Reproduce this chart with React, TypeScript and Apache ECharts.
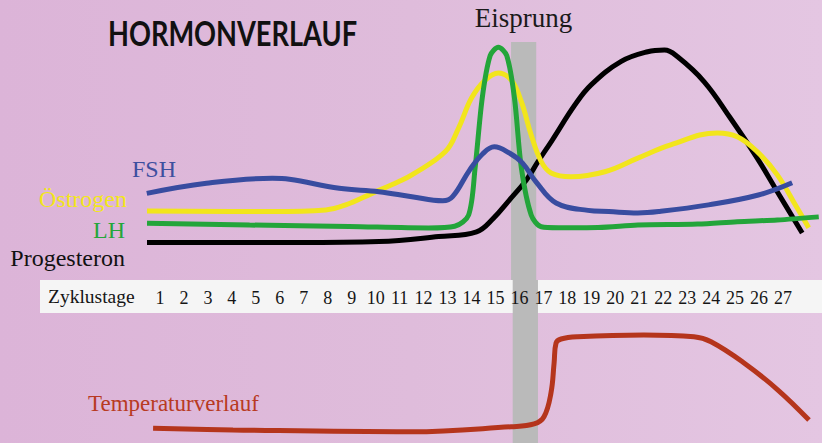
import React, { useEffect, useRef } from 'react';
import * as echarts from 'echarts';

// Tick labels for the cycle days
const dayLabels = ['1', '2', '3', '4', '5', '6', '7', '8', '9', '10', '11', '12', '13', '14', '15', '16', '17', '18', '19', '20', '21', '22', '23', '24', '25', '26', '27'];

// Ovulation band (Eisprung) in days
const ovulationDays = [15.65, 16.7];

// Hormone curves: [day, relative level 0-100]
const progesteronData: [number, number][] = [
  [0.46, 15.6], [6.81, 15.6], [10.14, 16], [12.63, 18.1], [14.21, 20.1], [14.92, 25.8],
  [15.58, 33.3], [16.29, 41.7], [16.78, 49.4], [17.37, 58.3], [18.31, 72.9], [18.99, 81.3],
  [20.23, 91], [21.35, 95.1], [22.05, 95.8], [22.6, 93], [23.71, 82.6], [24.8, 67.5],
  [25.92, 50.8], [26.76, 36.8], [27.8, 19.6],
];

const oestrogenData: [number, number][] = [
  [0.46, 28.8], [5.69, 28.5], [7.92, 29.2], [8.75, 31.3], [9.85, 36.1], [10.97, 41],
  [11.51, 43.8], [12.91, 53.5], [13.46, 63.3], [14.0, 75.8], [14.57, 83.3], [15.12, 86.3],
  [15.66, 83.3], [16.08, 74.3], [16.49, 60.4], [16.91, 49.3], [17.32, 44.6], [18.15, 43],
  [19.56, 45.1], [20.94, 50.8], [22.31, 56.3], [24.26, 61.3], [25.09, 59.7], [25.92, 53.5],
  [26.76, 43.8], [27.59, 30], [28.07, 21.8],
];

const lhData: [number, number][] = [
  [0.46, 23.6], [4.74, 22.9], [8.89, 22.3], [12.21, 21.7], [13.3, 22.4], [13.88, 27.1],
  [14.15, 46.7], [14.45, 76], [14.78, 93.5], [15.12, 97], [15.47, 93.5], [15.79, 76],
  [16.08, 46.7], [16.49, 27.1], [16.91, 22.2], [17.61, 21.8], [19.28, 21.9], [20.94, 22.9],
  [23.43, 23.3], [25.09, 24.3], [26.76, 25], [28.49, 26.3],
];

const fshData: [number, number][] = [
  [0.45, 36.1], [2.94, 40.3], [5.69, 42.4], [6.4, 42], [8.48, 38.2], [10.14, 36.8],
  [11.51, 34.7], [12.8, 33], [13.21, 34.7], [13.92, 45.8], [14.46, 52.5], [14.95, 55.5],
  [15.58, 52.9], [16.12, 48.8], [16.7, 40.8], [17.53, 32.1], [18.86, 29], [19.73, 28.5],
  [20.94, 27.9], [21.81, 28.5], [23.89, 31.3], [25.97, 35.4], [27.38, 40.5],
];

// Basal temperature curve: [day, relative level 0-100]
const temperatureData: [number, number][] = [
  [0.71, 9.0], [4.03, 8.0], [11.42, 6.9], [15.58, 10], [16.54, 11.7], [16.95, 16.1],
  [17.24, 30.7], [17.37, 49.1], [17.45, 61.3], [17.66, 63.8], [18.35, 65.2], [21.1, 66.3],
  [23.18, 65.2], [23.89, 62.1], [25.26, 49.1], [26.67, 32.5], [27.96, 14.1],
];

const SERIF = 'Liberation Serif, serif';

const lineSeries = (name: string, data: [number, number][], color: string, idx: number, extra: any = {}) => ({
  name,
  type: 'line',
  xAxisIndex: idx,
  yAxisIndex: idx,
  data,
  showSymbol: false,
  symbol: 'none',
  smooth: 0.4,
  lineStyle: { color, width: 5 },
  z: 2,
  ...extra,
});

const textEl = (text: string, x: number, y: number, size: number, color: string, align: string, family = SERIF, weight = 'normal', extra: any = {}) => ({
  type: 'text',
  x,
  y,
  z: 20,
  ...extra,
  style: {
    text,
    fill: color,
    fontSize: size,
    fontFamily: family,
    fontWeight: weight,
    textAlign: align,
    align,
    textVerticalAlign: 'middle',
    verticalAlign: 'middle',
  },
});

export default function App() {
  const ref = useRef<HTMLDivElement>(null);
  useEffect(() => {
    document.body.style.margin = '0';
    const chart = echarts.init(ref.current!, null, { renderer: 'svg' });
    const bandColor = '#bababa';
    chart.setOption({
      animation: false,
      backgroundColor: 'transparent',
      grid: [
        { left: 136, right: 0, top: 40, height: 240 },
        { left: 136, right: 0, top: 280, bottom: 0 },
      ],
      xAxis: [
        {
          type: 'value', gridIndex: 0, min: 0, max: 28.5, interval: 1, z: 10,
          axisLine: { show: false }, axisTick: { show: false }, splitLine: { show: false },
          axisLabel: {
            margin: 9, fontSize: 18, fontFamily: SERIF, color: '#151515',
            showMinLabel: true, showMaxLabel: true,
            formatter: (v: number) => (Number.isInteger(v) && v >= 1 && v <= dayLabels.length ? dayLabels[v - 1] : ''),
          },
        },
        { type: 'value', gridIndex: 1, min: 0, max: 28.5, show: false },
      ],
      yAxis: [
        { type: 'value', gridIndex: 0, min: 0, max: 100, show: false },
        { type: 'value', gridIndex: 1, min: 0, max: 100, show: false },
      ],
      graphic: [
        { type: 'rect', z: 0, shape: { x: 40, y: 280, width: 782, height: 33 }, style: { fill: '#f5f5f5' } },
        textEl('HORMONVERLAUF', 108, 33, 34, '#111', 'left', 'Lato', 'bold', { scaleX: 0.8 }),
        textEl('Eisprung', 523.5, 18, 27, '#1a1a1a', 'center'),
        textEl('FSH', 176, 169, 24, '#3d4f9f', 'right'),
        textEl('Östrogen', 127, 199, 24, '#f3e61b', 'right'),
        textEl('LH', 125, 229.5, 24, '#24a63b', 'right'),
        textEl('Progesteron', 125, 257.5, 24, '#111', 'right'),
        textEl('Zyklustage', 48, 296, 19.5, '#151515', 'left'),
        textEl('Temperaturverlauf', 88, 403.5, 23, '#b83a22', 'left'),
      ],
      series: [
        lineSeries('Progesteron', progesteronData, '#000000', 0, {
          markArea: {
            silent: true,
            z: 1,
            itemStyle: { color: bandColor, opacity: 1 },
            data: [[{ xAxis: ovulationDays[0], yAxis: 99.2 }, { xAxis: ovulationDays[1], yAxis: 0 }]],
          },
        }),
        lineSeries('Östrogen', oestrogenData, '#f2e51c', 0),
        lineSeries('LH', lhData, '#23a53a', 0, { smooth: 0.3 }),
        lineSeries('FSH', fshData, '#384ca0', 0),
        lineSeries('Temperaturverlauf', temperatureData, '#b5351c', 1, {
          markArea: {
            silent: true,
            z: 1,
            itemStyle: { color: bandColor, opacity: 1 },
            data: [[{ xAxis: ovulationDays[0] }, { xAxis: ovulationDays[1] }]],
          },
        }),
      ],
    });
    return () => chart.dispose();
  }, []);
  return (
    <div
      ref={ref}
      style={{
        width: 822,
        height: 443,
        background: 'linear-gradient(90deg, #dcb4d8 0%, #dfbcdb 50%, #e4c6e2 100%)',
      }}
    />
  );
}
